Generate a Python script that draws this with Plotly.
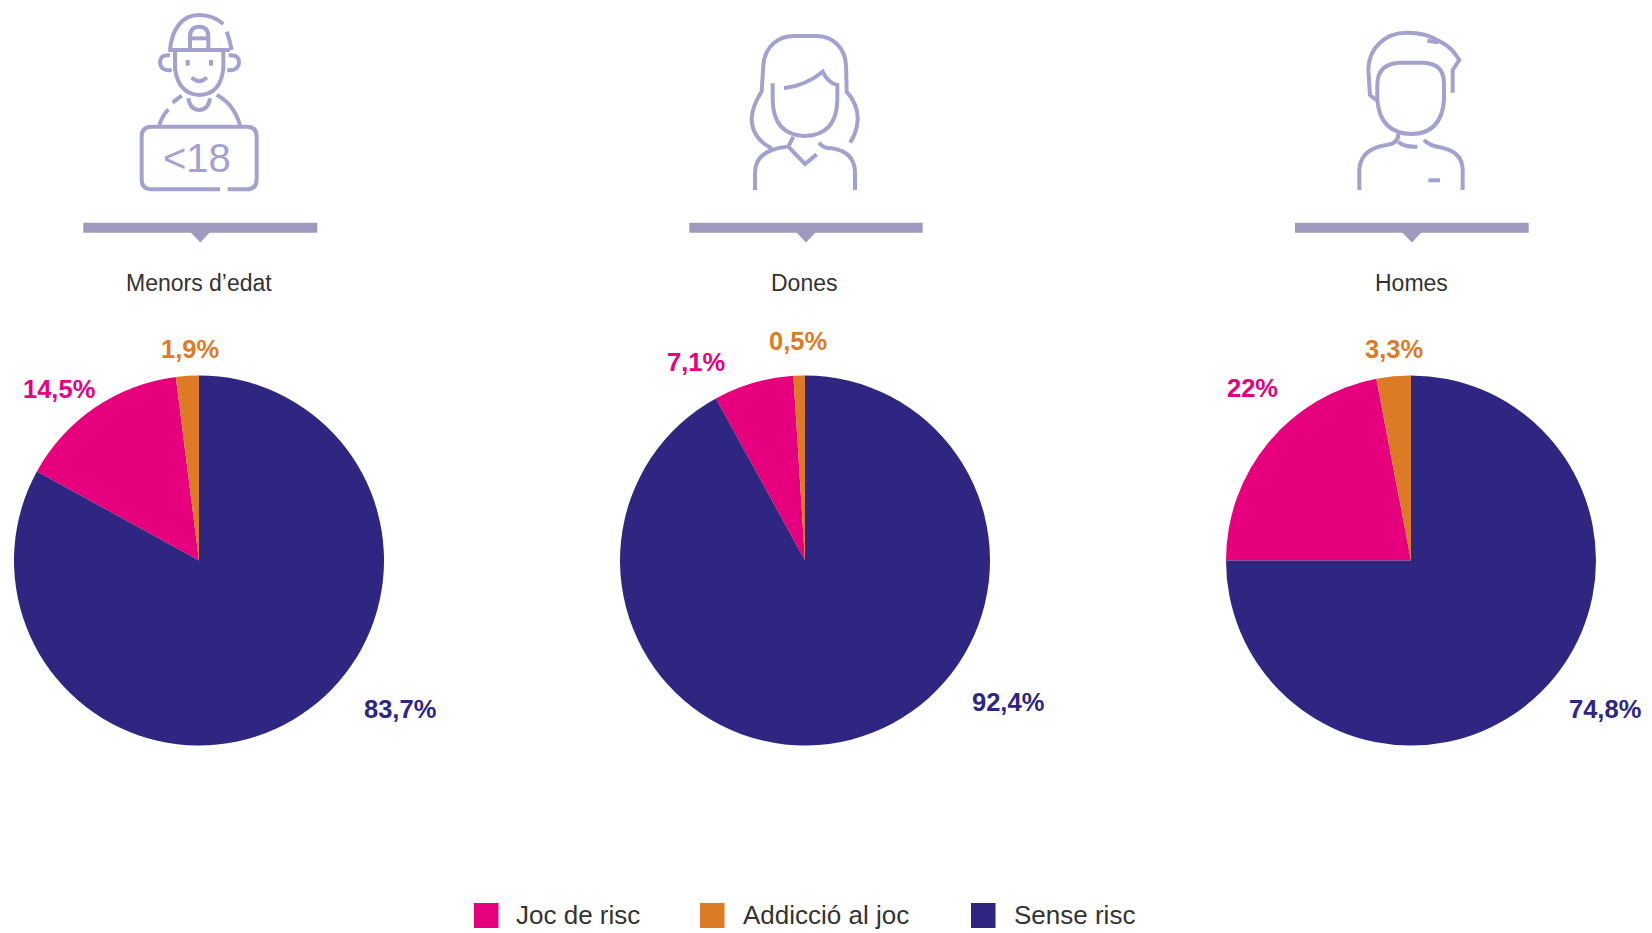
import re
import plotly.graph_objects as go

W, H = 1652, 933

# ---- data ----
groups = ["Menors d’edat", "Dones", "Homes"]
categories = ["Joc de risc", "Addicció al joc", "Sense risc"]
# slice sizes as drawn in the picture (the printed labels are more precise)
joc_de_risc = [15, 7, 22]
addiccio = [2, 1, 3]
sense_risc = [83, 92, 75]
joc_labels = ["14,5%", "7,1%", "22%"]
addiccio_labels = ["1,9%", "0,5%", "3,3%"]
sense_labels = ["83,7%", "92,4%", "74,8%"]

# ---- style ----
NAVY, PINK, ORANGE = "#2E2680", "#E6007E", "#DD7A26"
ICON = "#A5A1CE"
BAR = "#9F9ABD"
FONT = "Liberation Sans"
TEXT = "#333333"
colors = [PINK, ORANGE, NAVY]

centers_x = [199, 805, 1411]
center_y = 560.5
radius = 185

joc_pos = [(59, 389), (696, 362), (1252, 388)]
add_pos = [(190, 349), (798, 341), (1394, 349)]
sen_pos = [(400, 709), (1008, 702), (1605, 709)]
bar_spans = [(83.3, 317.3), (689.3, 922.7), (1295, 1528.7)]
title_x = [198.5, 804, 1411]
legend_swatch_x = [474, 700, 971]
legend_text_x = [514, 741, 1012]


def px(x):
    return x / W


def py(y):
    return 1 - y / H


def to_paper(path, ox, oy, s=1 / 3):
    """Turn a path written in zoomed-crop pixels into paper coordinates."""
    tokens = re.findall(r"[MLQCZ]|-?\d+\.?\d*", path)
    out, nums = [], []
    for t in tokens:
        if t in "MLQCZ":
            out.append(t)
        else:
            nums.append(float(t))
            if len(nums) == 2:
                out.append(f"{px(ox + nums[0] * s):.5f},{py(oy + nums[1] * s):.5f}")
                nums = []
    return " ".join(out)


icon1 = [
    "M 330 150 C 335 85 370 45 415 45 Q 460 45 490 72",
    "M 500 95 Q 510 120 515 150",
    "M 325 150 L 510 150",
    "M 390 150 L 390 110 Q 390 80 418 80 Q 445 80 445 110 L 445 150",
    "M 390 115 L 445 115",
    "M 330 166 Q 300 162 300 188 Q 302 214 335 210",
    "M 506 166 Q 537 162 537 188 Q 535 214 502 210",
    "M 345 150 L 345 205 Q 355 283 418 285 Q 482 283 490 205 L 490 150",
    "M 383 180 L 383 197",
    "M 453 180 L 453 197",
    "M 395 232 Q 418 255 440 232",
    "M 298 375 Q 308 345 325 328",
    "M 338 308 L 365 287",
    "M 470 285 Q 520 310 540 375",
    "M 385 295 Q 390 330 418 330 Q 445 330 450 295",
    "M 480 568 L 275 568 Q 245 568 245 538 L 245 410 Q 245 380 275 380 L 560 380 "
    "Q 590 380 590 410 L 590 538 Q 590 568 560 568 L 503 568",
]
icon2 = [
    "M 335 385 Q 275 355 275 295 Q 278 255 305 215 L 310 135 C 315 75 360 48 400 48 L 470 48 "
    "C 520 48 555 85 558 135 L 560 215 Q 595 255 593 300 Q 590 340 570 368",
    "M 338 190 L 338 240 Q 340 345 435 348 Q 530 345 532 240 L 532 195 "
    "Q 505 190 488 155 Q 440 195 372 205",
    "M 400 350 L 385 380 L 435 432 L 470 403",
    "M 285 510 L 285 460 Q 285 390 380 380",
    "M 477 368 Q 490 385 515 385 Q 585 395 585 460 L 585 510",
]
icon3 = [
    "M 318 240 L 300 225 L 295 150 C 295 85 345 38 410 38 Q 470 38 505 62 Q 545 80 568 120 "
    "L 548 150 L 548 218",
    "M 472 62 L 505 67",
    "M 390 128 L 460 128 Q 522 130 522 190 L 522 240 Q 515 340 425 342 "
    "Q 330 340 322 240 L 322 190 Q 325 130 390 128",
    "M 268 510 L 268 445 Q 275 385 350 375 Q 385 370 385 342",
    "M 385 365 Q 400 382 442 380",
    "M 462 360 Q 480 378 510 382 Q 578 395 578 450 L 578 510",
    "M 475 481 L 510 481",
]

fig = go.Figure()

for i, g in enumerate(groups):
    vals = [joc_de_risc[i], addiccio[i], sense_risc[i]]
    rot = -(vals[0] + vals[1]) / sum(vals) * 360
    cx = centers_x[i]
    fig.add_trace(go.Pie(
        labels=categories,
        values=vals,
        name=g,
        sort=False,
        direction="clockwise",
        rotation=rot,
        textinfo="none",
        hoverinfo="label+percent",
        marker=dict(colors=colors, line=dict(width=0)),
        domain=dict(x=[px(cx - radius), px(cx + radius)],
                    y=[py(center_y + radius), py(center_y - radius)]),
        showlegend=False,
    ))

shapes = []
line = dict(color=ICON, width=4)
for paths, ox, oy in [(icon1, 60, 0), (icon2, 660, 20), (icon3, 1270, 20)]:
    for p in paths:
        shapes.append(dict(type="path", xref="paper", yref="paper",
                           path=to_paper(p, ox, oy), line=line,
                           fillcolor="rgba(0,0,0,0)"))

for (x0, x1) in bar_spans:
    shapes.append(dict(type="rect", xref="paper", yref="paper",
                       x0=px(x0), x1=px(x1), y0=py(232.7), y1=py(222.7),
                       fillcolor=BAR, line=dict(width=0)))
    m = (x0 + x1) / 2
    shapes.append(dict(type="path", xref="paper", yref="paper",
                       path=f"M {px(m-10):.5f},{py(232):.5f} L {px(m+10):.5f},{py(232):.5f} "
                            f"L {px(m):.5f},{py(242.5):.5f} Z",
                       fillcolor=BAR, line=dict(width=0)))

ann = []


def text(x, y, s, color, size, bold=False, anchor="center", family=FONT):
    ann.append(dict(xref="paper", yref="paper", x=px(x), y=py(y), text=f"<b>{s}</b>" if bold else s,
                    showarrow=False, xanchor=anchor, yanchor="middle",
                    font=dict(family=family, size=size, color=color)))


for i, g in enumerate(groups):
    text(title_x[i], 283.5, g, TEXT, 23)
    text(*joc_pos[i], joc_labels[i], PINK, 25.5, bold=True)
    text(*add_pos[i], addiccio_labels[i], ORANGE, 25.5, bold=True)
    text(*sen_pos[i], sense_labels[i], NAVY, 25.5, bold=True)

text(197, 158, "&lt;18", ICON, 40)

for x_s, x_t, c, name in zip(legend_swatch_x, legend_text_x, colors, categories):
    shapes.append(dict(type="rect", xref="paper", yref="paper",
                       x0=px(x_s), x1=px(x_s + 24.5), y0=py(928), y1=py(903),
                       fillcolor=c, line=dict(width=0)))
    text(x_t, 914.5, name, TEXT, 26, anchor="left")

fig.update_layout(
    width=W, height=H, autosize=False,
    margin=dict(l=0, r=0, t=0, b=0),
    paper_bgcolor="white",
    showlegend=False,
    shapes=shapes,
    annotations=ann,
)

fig.write_html("out.html", config={"displayModeBar": False},
               post_script="document.body.style.margin='0';")
